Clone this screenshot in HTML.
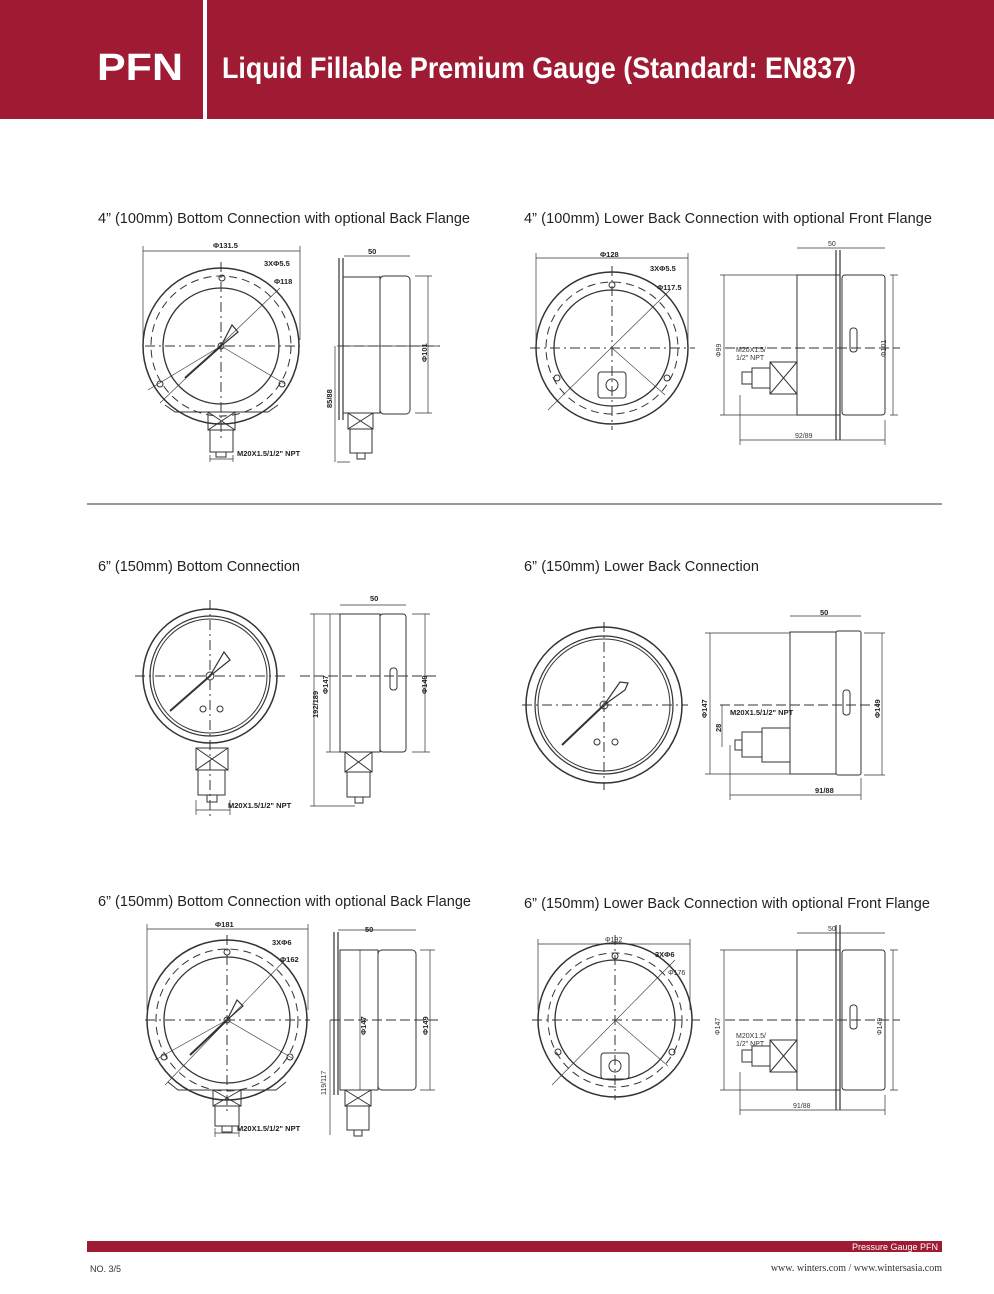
<!DOCTYPE html>
<html><head><meta charset="utf-8"><style>
html,body{margin:0;padding:0;background:#fff}
svg{display:block}
text{font-family:"Liberation Sans",sans-serif}
</style></head><body>
<svg width="994" height="1294" viewBox="0 0 994 1294" xmlns="http://www.w3.org/2000/svg">
<rect x="0" y="0" width="994" height="119" fill="#9e1b33"/>
<rect x="203" y="0" width="4" height="119" fill="#fff"/>
<text x="97" y="80" font-size="38" font-weight="bold" fill="#fff" textLength="86" lengthAdjust="spacingAndGlyphs">PFN</text>
<text x="222" y="78" font-size="30" font-weight="bold" fill="#fff" textLength="634" lengthAdjust="spacingAndGlyphs">Liquid Fillable Premium Gauge (Standard: EN837)</text>

<g font-size="14.5" fill="#222">
<text x="98" y="223" textLength="372">4” (100mm) Bottom Connection with optional Back Flange</text>
<text x="524" y="223" textLength="408">4” (100mm) Lower Back Connection with optional Front Flange</text>
<text x="98" y="571" textLength="202">6” (150mm) Bottom Connection</text>
<text x="524" y="571" textLength="235">6” (150mm) Lower Back Connection</text>
<text x="98" y="906" textLength="373">6” (150mm) Bottom Connection with optional Back Flange</text>
<text x="524" y="908" textLength="406">6” (150mm) Lower Back Connection with optional Front Flange</text>
</g>
<rect x="87" y="503" width="855" height="2" fill="#999"/>

<g fill="none" stroke="#333" stroke-width="1">
<!-- Panel 1 front -->
<circle cx="221" cy="346" r="78" stroke-width="1.5"/>
<circle cx="221" cy="346" r="70" stroke-dasharray="8 5"/>
<circle cx="221" cy="346" r="58" stroke-width="1.3"/>
<path d="M165 405 L175 412 L268 412 L278 405"/>
<rect x="208" y="412" width="27" height="18"/><path d="M208 412 L235 430 M235 412 L208 430"/>
<rect x="210" y="430" width="23" height="22"/><rect x="216" y="452" width="10" height="5"/>
<path d="M145 346 H300 M221 262 V440" stroke-dasharray="10 4 2 4"/>
<path d="M160 403 L280 288 M221 346 L285 384 M148 390 L221 346" stroke-width="0.6"/>
<path d="M185 378 L221 346" stroke-width="2"/><path d="M221 346 L238 332 L232 325 Z" stroke-width="1.2"/>
<circle cx="221" cy="346" r="3"/><circle cx="222" cy="278" r="3"/><circle cx="160" cy="384" r="3"/><circle cx="282" cy="384" r="3"/>
<path d="M143 251 H300 M143 246 V340 M300 246 V340 M210 455 V462 M233 455 V462 M210 459 H233" stroke-width="0.7"/>
<!-- Panel 1 side -->
<rect x="343" y="277" width="37" height="136"/><rect x="380" y="276" width="30" height="138" rx="4"/>
<path d="M339 258 V420 M343 258 V420" stroke-width="1.2"/>
<rect x="348" y="413" width="25" height="16"/><path d="M348 413 L373 429 M373 413 L348 429"/>
<rect x="350" y="429" width="22" height="24"/><rect x="357" y="453" width="8" height="6"/>
<path d="M344 256 H410 M380 276 V407 M415 276 H432 M415 413 H432 M428 276 V413 M337 346 H440 M337 462 H350 M335 346 V462" stroke-width="0.7"/>
<path d="M340 346 H440" stroke-dasharray="10 4"/>

<!-- Panel 2 front -->
<circle cx="612" cy="348" r="76" stroke-width="1.5"/>
<circle cx="612" cy="348" r="66" stroke-dasharray="8 5"/>
<circle cx="612" cy="348" r="58" stroke-width="1.3"/>
<rect x="598" y="372" width="28" height="26" rx="3"/><circle cx="612" cy="385" r="6"/>
<path d="M530 348 H695 M612 266 V430" stroke-dasharray="10 4 2 4"/>
<path d="M548 410 L670 290 M612 348 L665 395" stroke-width="0.6"/>
<circle cx="612" cy="285" r="3"/><circle cx="557" cy="378" r="3"/><circle cx="667" cy="378" r="3"/>
<path d="M536 258 H688 M536 253 V340 M688 253 V340" stroke-width="0.7"/>
<!-- Panel 2 side -->
<rect x="797" y="275" width="43" height="140"/><rect x="842" y="275" width="43" height="140" rx="3"/>
<path d="M836 250 V440 M840 250 V440" stroke-width="1.2"/>
<rect x="770" y="362" width="27" height="32"/><path d="M770 362 L797 394 M797 362 L770 394"/>
<rect x="752" y="368" width="18" height="20"/><rect x="742" y="372" width="10" height="12"/>
<rect x="850" y="328" width="7" height="24" rx="3"/>
<path d="M797 248 H885 M720 275 H797 M720 415 H797 M724 275 V415 M890 275 H898 M890 415 H898 M893 275 V415 M740 440 H885 M740 395 V445 M885 420 V445" stroke-width="0.7"/>
<path d="M725 348 H900" stroke-dasharray="10 4"/>

<!-- Panel 3 front -->
<circle cx="210" cy="676" r="67" stroke-width="1.5"/>
<circle cx="210" cy="676" r="60" stroke-width="1.2"/>
<circle cx="210" cy="676" r="57"/>
<path d="M135 676 H285 M210 600 V820" stroke-dasharray="10 4 2 4"/>
<path d="M170 711 L210 676" stroke-width="2"/><path d="M210 676 L230 660 L224 652 Z" stroke-width="1.2"/>
<circle cx="210" cy="676" r="4"/><circle cx="203" cy="709" r="3"/><circle cx="220" cy="709" r="3"/>
<rect x="196" y="748" width="32" height="22"/><path d="M196 748 L228 770 M228 748 L196 770"/>
<rect x="198" y="770" width="27" height="25"/><rect x="207" y="795" width="10" height="7"/>
<path d="M196 810 H230 M196 800 V815 M230 800 V815" stroke-width="0.7"/>
<!-- Panel 3 side -->
<rect x="340" y="614" width="40" height="138"/><rect x="380" y="614" width="26" height="138" rx="3"/>
<rect x="345" y="752" width="27" height="20"/><path d="M345 752 L372 772 M372 752 L345 772"/>
<rect x="347" y="772" width="23" height="25"/><rect x="355" y="797" width="8" height="6"/>
<rect x="390" y="668" width="7" height="22" rx="3"/>
<path d="M340 605 H406 M310 614 H340 M326 752 H340 M314 614 V806 M330 614 V752 M310 806 H355 M412 614 H430 M412 752 H430 M425 614 V752" stroke-width="0.7"/>
<path d="M300 676 H440" stroke-dasharray="10 4"/>

<!-- Panel 4 front -->
<circle cx="604" cy="705" r="78" stroke-width="1.5"/>
<circle cx="604" cy="705" r="69" stroke-width="1.2"/>
<circle cx="604" cy="705" r="66"/>
<path d="M522 705 H688 M604 622 V790" stroke-dasharray="10 4 2 4"/>
<path d="M562 745 L604 705" stroke-width="2"/><path d="M604 705 L625 690 L628 683 L620 682 Z" stroke-width="1.2"/>
<circle cx="604" cy="705" r="4"/><circle cx="597" cy="742" r="3"/><circle cx="615" cy="742" r="3"/>
<!-- Panel 4 side -->
<rect x="790" y="632" width="46" height="142"/><rect x="836" y="631" width="25" height="144" rx="2"/>
<rect x="762" y="728" width="28" height="34"/><rect x="742" y="732" width="20" height="25"/><rect x="735" y="740" width="7" height="10"/>
<rect x="843" y="690" width="7" height="25" rx="3"/>
<path d="M790 616 H861 M705 633 H790 M705 774 H790 M710 633 V774 M722 705 V747 M864 633 H885 M864 775 H885 M882 633 V775 M730 795 H861 M730 745 V800 M861 778 V800" stroke-width="0.7"/>
<path d="M720 705 H880" stroke-dasharray="10 4"/>

<!-- Panel 5 front -->
<circle cx="227" cy="1020" r="80" stroke-width="1.5"/>
<circle cx="227" cy="1020" r="71" stroke-dasharray="8 5"/>
<circle cx="227" cy="1020" r="63" stroke-width="1.3"/>
<path d="M168 1082 L178 1090 L276 1090 L286 1082"/>
<rect x="213" y="1090" width="28" height="16"/><path d="M213 1090 L241 1106 M241 1090 L213 1106"/>
<rect x="215" y="1106" width="24" height="20"/><rect x="222" y="1126" width="10" height="6"/>
<path d="M145 1020 H310 M227 935 V1115" stroke-dasharray="10 4 2 4"/>
<path d="M165 1085 L285 960 M227 1020 L292 1058 M155 1060 L227 1020" stroke-width="0.6"/>
<path d="M190 1055 L227 1020" stroke-width="2"/><path d="M227 1020 L243 1006 L237 1000 Z" stroke-width="1.2"/>
<circle cx="227" cy="1020" r="3"/><circle cx="227" cy="952" r="3"/><circle cx="164" cy="1057" r="3"/><circle cx="290" cy="1057" r="3"/>
<path d="M147 929 H308 M147 924 V1010 M308 924 V1010 M215 1128 V1137 M239 1128 V1137 M215 1133 H239" stroke-width="0.7"/>
<!-- Panel 5 side -->
<rect x="340" y="950" width="38" height="140"/><rect x="378" y="950" width="38" height="140" rx="4"/>
<path d="M334 932 V1095 M338 932 V1095" stroke-width="1.2"/>
<rect x="345" y="1090" width="26" height="16"/><path d="M345 1090 L371 1106 M371 1090 L345 1106"/>
<rect x="347" y="1106" width="22" height="24"/><rect x="354" y="1130" width="8" height="6"/>
<path d="M338 930 H416 M420 950 H435 M420 1090 H435 M430 950 V1090 M330 1020 V1135 M360 950 V1090" stroke-width="0.7"/>
<path d="M330 1020 H440" stroke-dasharray="10 4"/>

<!-- Panel 6 front -->
<circle cx="615" cy="1020" r="77" stroke-width="1.5"/>
<circle cx="615" cy="1020" r="67" stroke-dasharray="8 5"/>
<circle cx="615" cy="1020" r="60" stroke-width="1.3"/>
<rect x="601" y="1053" width="28" height="26" rx="3"/><circle cx="615" cy="1066" r="6"/>
<path d="M532 1020 H700 M615 935 V1100" stroke-dasharray="10 4 2 4"/>
<path d="M552 1085 L675 960 M615 1020 L668 1066" stroke-width="0.6"/>
<circle cx="615" cy="956" r="3"/><circle cx="558" cy="1052" r="3"/><circle cx="672" cy="1052" r="3"/>
<path d="M538 944 H690 M538 939 V1010 M690 939 V1010" stroke-width="0.7"/>
<!-- Panel 6 side -->
<rect x="797" y="950" width="43" height="140"/><rect x="842" y="950" width="43" height="140" rx="3"/>
<path d="M836 925 V1110 M840 925 V1110" stroke-width="1.2"/>
<rect x="770" y="1040" width="27" height="32"/><path d="M770 1040 L797 1072 M797 1040 L770 1072"/>
<rect x="752" y="1046" width="18" height="20"/><rect x="742" y="1050" width="10" height="12"/>
<rect x="850" y="1005" width="7" height="24" rx="3"/>
<path d="M797 933 H885 M720 950 H797 M720 1090 H797 M724 950 V1090 M890 950 H898 M890 1090 H898 M893 950 V1090 M740 1110 H885 M740 1072 V1115 M885 1095 V1115" stroke-width="0.7"/>
<path d="M725 1020 H900" stroke-dasharray="10 4"/>
</g>

<g font-size="7.5" font-weight="bold" fill="#222">
<text x="213" y="248">Φ131.5</text><text x="264" y="266">3XΦ5.5</text><text x="274" y="284">Φ118</text>
<text x="368" y="254">50</text><text x="237" y="456">M20X1.5/1/2" NPT</text>
<text x="600" y="257">Φ128</text><text x="650" y="271">3XΦ5.5</text><text x="657" y="290">Φ117.5</text>
<text x="370" y="601">50</text><text x="228" y="808">M20X1.5/1/2" NPT</text>
<text x="820" y="615">50</text><text x="730" y="715">M20X1.5/1/2" NPT</text><text x="815" y="793">91/88</text>
<text x="215" y="927">Φ181</text><text x="272" y="945">3XΦ6</text><text x="280" y="962">Φ162</text>
<text x="365" y="932">50</text><text x="237" y="1131">M20X1.5/1/2" NPT</text>
<text x="655" y="957">3XΦ6</text>
</g>
<g font-size="7" fill="#333">
<text x="828" y="246">50</text><text x="736" y="352">M20X1.5/</text><text x="736" y="360">1/2" NPT</text><text x="795" y="438">92/89</text>
<text x="605" y="942">Φ192</text><text x="668" y="975">Φ176</text><text x="828" y="931">50</text>
<text x="736" y="1038">M20X1.5/</text><text x="736" y="1046">1/2" NPT</text><text x="793" y="1108">91/88</text>
</g>
<g font-size="7.5" font-weight="bold" fill="#222">
<text transform="translate(427,362) rotate(-90)">Φ101</text>
<text transform="translate(332,408) rotate(-90)">85/88</text>
<text transform="translate(328,694) rotate(-90)">Φ147</text>
<text transform="translate(318,718) rotate(-90)">192/189</text>
<text transform="translate(427,694) rotate(-90)">Φ149</text>
<text transform="translate(707,718) rotate(-90)">Φ147</text>
<text transform="translate(721,732) rotate(-90)">28</text>
<text transform="translate(880,718) rotate(-90)">Φ149</text>
<text transform="translate(428,1035) rotate(-90)">Φ149</text>
<text transform="translate(366,1035) rotate(-90)">Φ147</text>
</g>
<g font-size="7" fill="#333">
<text transform="translate(721,357) rotate(-90)">Φ99</text>
<text transform="translate(886,357) rotate(-90)">Φ101</text>
<text transform="translate(720,1035) rotate(-90)">Φ147</text>
<text transform="translate(882,1035) rotate(-90)">Φ149</text>
<text transform="translate(326,1095) rotate(-90)">119/117</text>
</g>

<rect x="87" y="1241" width="855" height="11" fill="#9e1b33"/>
<text x="938" y="1250" font-size="9" fill="#fff" text-anchor="end">Pressure  Gauge   PFN</text>
<text x="90" y="1272" font-size="9" fill="#333">NO. 3/5</text>
<text x="942" y="1271" font-size="10" fill="#333" text-anchor="end" style="font-family:'Liberation Serif',serif">www. winters.com / www.wintersasia.com</text>
</svg>
</body></html>
